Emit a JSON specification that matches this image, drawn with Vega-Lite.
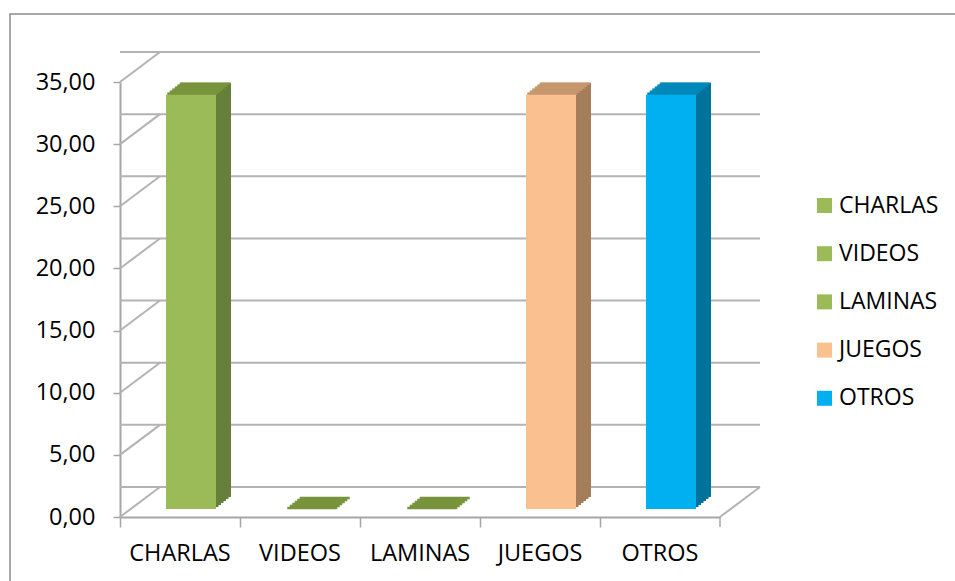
{
  "$schema": "https://vega.github.io/schema/vega-lite/v6.json",
  "width": 600,
  "height": 435,
  "autosize": {"type": "none"},
  "padding": {"left": 120, "top": 82, "right": 235, "bottom": 64},
  "background": "white",
  "config": {"view": {"stroke": null}, "font": "Open Sans", "axis": {"grid": false}},
  "datasets": {
    "cats": [
      {"cat": "CHARLAS", "value": 33.33},
      {"cat": "VIDEOS", "value": 0},
      {"cat": "LAMINAS", "value": 0},
      {"cat": "JUEGOS", "value": 33.33},
      {"cat": "OTROS", "value": 33.33}
    ],
    "grid": [{"v": 0}, {"v": 5}, {"v": 10}, {"v": 15}, {"v": 20}, {"v": 25}, {"v": 30}, {"v": 35}],
    "one": [{"id": 1}]
  },
  "resolve": {"scale": {"color": "independent"}, "legend": {"color": "independent"}},
  "layer": [
    {
      "data": {"name": "cats"},
      "mark": {"type": "bar", "width": 50, "xOffset": 11, "yOffset": -8, "y2Offset": -8, "opacity": 0},
      "encoding": {
        "x": {"field": "cat", "type": "nominal", "sort": null, "title": null, "scale": {"type": "band", "domain": ["CHARLAS", "VIDEOS", "LAMINAS", "JUEGOS", "OTROS"], "paddingInner": 0, "paddingOuter": 0},
          "axis": {"title": null, "labelAngle": 0, "bandPosition": 0, "domainColor": "#a6a6a6", "domainWidth": 2, "tickColor": "#a6a6a6", "tickSize": 10, "tickWidth": 1.5, "labelFontSize": 23.5, "labelFont": "Open Sans", "labelColor": "black", "labelPadding": 14, "labelDx": 55}},
        "y": {"field": "value", "type": "quantitative", "stack": null, "title": null, "scale": {"domain": [0, 35], "nice": false},
          "axis": {"title": null, "values": [0, 5, 10, 15, 20, 25, 30, 35], "labelExpr": "replace(format(datum.value, '.2f'), '.', ',')", "grid": false, "domainColor": "#a6a6a6", "domainWidth": 2, "tickColor": "#a6a6a6", "tickSize": 7, "tickWidth": 1.5, "labelFontSize": 23.5, "labelFont": "Open Sans", "labelColor": "black", "labelPadding": 18}},
        "y2": {"datum": 0}
      }
    },
    {
      "data": {"name": "one"},
      "mark": {"type": "rect", "fill": "white", "fillOpacity": 0, "stroke": "#8c8c8c", "strokeWidth": 1.5, "xOffset": -110, "x2Offset": 240, "yOffset": -68, "y2Offset": 75},
      "encoding": {
        "x": {"datum": "CHARLAS", "bandPosition": 0, "title": null, "scale": {"type": "band", "domain": ["CHARLAS", "VIDEOS", "LAMINAS", "JUEGOS", "OTROS"], "paddingInner": 0, "paddingOuter": 0}},
        "x2": {"datum": "OTROS", "bandPosition": 1},
        "y": {"datum": 35, "type": "quantitative", "title": null, "scale": {"domain": [0, 35], "nice": false}},
        "y2": {"datum": 0}
      }
    },
    {
      "data": {"name": "grid"},
      "mark": {"type": "rule", "color": "#b3b3b3", "strokeWidth": 2, "xOffset": 40, "x2Offset": 40, "yOffset": -30, "y2Offset": -30},
      "encoding": {
        "y": {"field": "v", "type": "quantitative", "title": null, "scale": {"domain": [0, 35], "nice": false}}
      }
    },
    {
      "data": {"name": "grid"},
      "mark": {"type": "rule", "color": "#b3b3b3", "strokeWidth": 2, "x2Offset": 40, "y2Offset": -30},
      "encoding": {
        "x": {"datum": "CHARLAS", "bandPosition": 0, "title": null, "scale": {"type": "band", "domain": ["CHARLAS", "VIDEOS", "LAMINAS", "JUEGOS", "OTROS"], "paddingInner": 0, "paddingOuter": 0}},
        "x2": {"datum": "CHARLAS", "bandPosition": 0},
        "y": {"field": "v", "type": "quantitative", "title": null, "scale": {"domain": [0, 35], "nice": false}},
        "y2": {"field": "v"}
      }
    },
    {
      "data": {"name": "one"},
      "mark": {"type": "rule", "color": "#b3b3b3", "strokeWidth": 2, "x2Offset": 40, "y2Offset": -30},
      "encoding": {
        "x": {"datum": "OTROS", "bandPosition": 1, "title": null, "scale": {"type": "band", "domain": ["CHARLAS", "VIDEOS", "LAMINAS", "JUEGOS", "OTROS"], "paddingInner": 0, "paddingOuter": 0}},
        "x2": {"datum": "OTROS", "bandPosition": 1},
        "y": {"datum": 0, "type": "quantitative", "title": null, "scale": {"domain": [0, 35], "nice": false}},
        "y2": {"datum": 0}
      }
    },
    {
      "data": {"name": "one"},
      "mark": {"type": "rule", "color": "#a6a6a6", "strokeWidth": 1.5, "y2Offset": 10},
      "encoding": {
        "x": {"datum": "OTROS", "bandPosition": 1, "title": null, "scale": {"type": "band", "domain": ["CHARLAS", "VIDEOS", "LAMINAS", "JUEGOS", "OTROS"], "paddingInner": 0, "paddingOuter": 0}},
        "y": {"datum": 0, "type": "quantitative", "title": null, "scale": {"domain": [0, 35], "nice": false}},
        "y2": {"datum": 0}
      }
    },
    {
      "data": {"name": "cats"},
      "mark": {"type": "bar", "width": 50, "xOffset": 26, "yOffset": -20, "y2Offset": -20},
      "encoding": {
        "x": {"field": "cat", "type": "nominal", "sort": null, "title": null, "scale": {"type": "band", "domain": ["CHARLAS", "VIDEOS", "LAMINAS", "JUEGOS", "OTROS"], "paddingInner": 0, "paddingOuter": 0}},
        "y": {"field": "value", "type": "quantitative", "stack": null, "title": null, "scale": {"domain": [0, 35], "nice": false}},
        "y2": {"datum": 0},
        "color": {"field": "cat", "type": "nominal", "scale": {"domain": ["CHARLAS", "VIDEOS", "LAMINAS", "JUEGOS", "OTROS"], "range": ["#66803a", "#66803a", "#66803a", "#a47d5b", "#00729c"]}, "legend": null}
      }
    },
    {
      "data": {"name": "cats"},
      "mark": {"type": "bar", "width": 50, "xOffset": 23.5, "yOffset": -18, "y2Offset": -18},
      "encoding": {
        "x": {"field": "cat", "type": "nominal", "sort": null, "title": null, "scale": {"type": "band", "domain": ["CHARLAS", "VIDEOS", "LAMINAS", "JUEGOS", "OTROS"], "paddingInner": 0, "paddingOuter": 0}},
        "y": {"field": "value", "type": "quantitative", "stack": null, "title": null, "scale": {"domain": [0, 35], "nice": false}},
        "y2": {"datum": 0},
        "color": {"field": "cat", "type": "nominal", "scale": {"domain": ["CHARLAS", "VIDEOS", "LAMINAS", "JUEGOS", "OTROS"], "range": ["#66803a", "#66803a", "#66803a", "#a47d5b", "#00729c"]}, "legend": null}
      }
    },
    {
      "data": {"name": "cats"},
      "mark": {"type": "bar", "width": 50, "xOffset": 21, "yOffset": -16, "y2Offset": -16},
      "encoding": {
        "x": {"field": "cat", "type": "nominal", "sort": null, "title": null, "scale": {"type": "band", "domain": ["CHARLAS", "VIDEOS", "LAMINAS", "JUEGOS", "OTROS"], "paddingInner": 0, "paddingOuter": 0}},
        "y": {"field": "value", "type": "quantitative", "stack": null, "title": null, "scale": {"domain": [0, 35], "nice": false}},
        "y2": {"datum": 0},
        "color": {"field": "cat", "type": "nominal", "scale": {"domain": ["CHARLAS", "VIDEOS", "LAMINAS", "JUEGOS", "OTROS"], "range": ["#66803a", "#66803a", "#66803a", "#a47d5b", "#00729c"]}, "legend": null}
      }
    },
    {
      "data": {"name": "cats"},
      "mark": {"type": "bar", "width": 50, "xOffset": 18.5, "yOffset": -14, "y2Offset": -14},
      "encoding": {
        "x": {"field": "cat", "type": "nominal", "sort": null, "title": null, "scale": {"type": "band", "domain": ["CHARLAS", "VIDEOS", "LAMINAS", "JUEGOS", "OTROS"], "paddingInner": 0, "paddingOuter": 0}},
        "y": {"field": "value", "type": "quantitative", "stack": null, "title": null, "scale": {"domain": [0, 35], "nice": false}},
        "y2": {"datum": 0},
        "color": {"field": "cat", "type": "nominal", "scale": {"domain": ["CHARLAS", "VIDEOS", "LAMINAS", "JUEGOS", "OTROS"], "range": ["#66803a", "#66803a", "#66803a", "#a47d5b", "#00729c"]}, "legend": null}
      }
    },
    {
      "data": {"name": "cats"},
      "mark": {"type": "bar", "width": 50, "xOffset": 16, "yOffset": -12, "y2Offset": -12},
      "encoding": {
        "x": {"field": "cat", "type": "nominal", "sort": null, "title": null, "scale": {"type": "band", "domain": ["CHARLAS", "VIDEOS", "LAMINAS", "JUEGOS", "OTROS"], "paddingInner": 0, "paddingOuter": 0}},
        "y": {"field": "value", "type": "quantitative", "stack": null, "title": null, "scale": {"domain": [0, 35], "nice": false}},
        "y2": {"datum": 0},
        "color": {"field": "cat", "type": "nominal", "scale": {"domain": ["CHARLAS", "VIDEOS", "LAMINAS", "JUEGOS", "OTROS"], "range": ["#66803a", "#66803a", "#66803a", "#a47d5b", "#00729c"]}, "legend": null}
      }
    },
    {
      "data": {"name": "cats"},
      "mark": {"type": "bar", "width": 50, "xOffset": 13.5, "yOffset": -10, "y2Offset": -10},
      "encoding": {
        "x": {"field": "cat", "type": "nominal", "sort": null, "title": null, "scale": {"type": "band", "domain": ["CHARLAS", "VIDEOS", "LAMINAS", "JUEGOS", "OTROS"], "paddingInner": 0, "paddingOuter": 0}},
        "y": {"field": "value", "type": "quantitative", "stack": null, "title": null, "scale": {"domain": [0, 35], "nice": false}},
        "y2": {"datum": 0},
        "color": {"field": "cat", "type": "nominal", "scale": {"domain": ["CHARLAS", "VIDEOS", "LAMINAS", "JUEGOS", "OTROS"], "range": ["#66803a", "#66803a", "#66803a", "#a47d5b", "#00729c"]}, "legend": null}
      }
    },
    {
      "data": {"name": "cats"},
      "mark": {"type": "tick", "size": 50, "thickness": 2.6, "opacity": 1, "xOffset": 12.25, "yOffset": -9},
      "encoding": {
        "x": {"field": "cat", "type": "nominal", "sort": null, "title": null, "scale": {"type": "band", "domain": ["CHARLAS", "VIDEOS", "LAMINAS", "JUEGOS", "OTROS"], "paddingInner": 0, "paddingOuter": 0}},
        "y": {"field": "value", "type": "quantitative", "stack": null, "title": null, "scale": {"domain": [0, 35], "nice": false}},
        "color": {"field": "cat", "type": "nominal", "scale": {"domain": ["CHARLAS", "VIDEOS", "LAMINAS", "JUEGOS", "OTROS"], "range": ["#77933c", "#77933c", "#77933c", "#c6966c", "#0088ba"]}, "legend": null}
      }
    },
    {
      "data": {"name": "cats"},
      "mark": {"type": "tick", "size": 50, "thickness": 2.6, "opacity": 1, "xOffset": 14.75, "yOffset": -11},
      "encoding": {
        "x": {"field": "cat", "type": "nominal", "sort": null, "title": null, "scale": {"type": "band", "domain": ["CHARLAS", "VIDEOS", "LAMINAS", "JUEGOS", "OTROS"], "paddingInner": 0, "paddingOuter": 0}},
        "y": {"field": "value", "type": "quantitative", "stack": null, "title": null, "scale": {"domain": [0, 35], "nice": false}},
        "color": {"field": "cat", "type": "nominal", "scale": {"domain": ["CHARLAS", "VIDEOS", "LAMINAS", "JUEGOS", "OTROS"], "range": ["#77933c", "#77933c", "#77933c", "#c6966c", "#0088ba"]}, "legend": null}
      }
    },
    {
      "data": {"name": "cats"},
      "mark": {"type": "tick", "size": 50, "thickness": 2.6, "opacity": 1, "xOffset": 17.25, "yOffset": -13},
      "encoding": {
        "x": {"field": "cat", "type": "nominal", "sort": null, "title": null, "scale": {"type": "band", "domain": ["CHARLAS", "VIDEOS", "LAMINAS", "JUEGOS", "OTROS"], "paddingInner": 0, "paddingOuter": 0}},
        "y": {"field": "value", "type": "quantitative", "stack": null, "title": null, "scale": {"domain": [0, 35], "nice": false}},
        "color": {"field": "cat", "type": "nominal", "scale": {"domain": ["CHARLAS", "VIDEOS", "LAMINAS", "JUEGOS", "OTROS"], "range": ["#77933c", "#77933c", "#77933c", "#c6966c", "#0088ba"]}, "legend": null}
      }
    },
    {
      "data": {"name": "cats"},
      "mark": {"type": "tick", "size": 50, "thickness": 2.6, "opacity": 1, "xOffset": 19.75, "yOffset": -15},
      "encoding": {
        "x": {"field": "cat", "type": "nominal", "sort": null, "title": null, "scale": {"type": "band", "domain": ["CHARLAS", "VIDEOS", "LAMINAS", "JUEGOS", "OTROS"], "paddingInner": 0, "paddingOuter": 0}},
        "y": {"field": "value", "type": "quantitative", "stack": null, "title": null, "scale": {"domain": [0, 35], "nice": false}},
        "color": {"field": "cat", "type": "nominal", "scale": {"domain": ["CHARLAS", "VIDEOS", "LAMINAS", "JUEGOS", "OTROS"], "range": ["#77933c", "#77933c", "#77933c", "#c6966c", "#0088ba"]}, "legend": null}
      }
    },
    {
      "data": {"name": "cats"},
      "mark": {"type": "tick", "size": 50, "thickness": 2.6, "opacity": 1, "xOffset": 22.25, "yOffset": -17},
      "encoding": {
        "x": {"field": "cat", "type": "nominal", "sort": null, "title": null, "scale": {"type": "band", "domain": ["CHARLAS", "VIDEOS", "LAMINAS", "JUEGOS", "OTROS"], "paddingInner": 0, "paddingOuter": 0}},
        "y": {"field": "value", "type": "quantitative", "stack": null, "title": null, "scale": {"domain": [0, 35], "nice": false}},
        "color": {"field": "cat", "type": "nominal", "scale": {"domain": ["CHARLAS", "VIDEOS", "LAMINAS", "JUEGOS", "OTROS"], "range": ["#77933c", "#77933c", "#77933c", "#c6966c", "#0088ba"]}, "legend": null}
      }
    },
    {
      "data": {"name": "cats"},
      "mark": {"type": "tick", "size": 50, "thickness": 2.6, "opacity": 1, "xOffset": 24.75, "yOffset": -19},
      "encoding": {
        "x": {"field": "cat", "type": "nominal", "sort": null, "title": null, "scale": {"type": "band", "domain": ["CHARLAS", "VIDEOS", "LAMINAS", "JUEGOS", "OTROS"], "paddingInner": 0, "paddingOuter": 0}},
        "y": {"field": "value", "type": "quantitative", "stack": null, "title": null, "scale": {"domain": [0, 35], "nice": false}},
        "color": {"field": "cat", "type": "nominal", "scale": {"domain": ["CHARLAS", "VIDEOS", "LAMINAS", "JUEGOS", "OTROS"], "range": ["#77933c", "#77933c", "#77933c", "#c6966c", "#0088ba"]}, "legend": null}
      }
    },
    {
      "data": {"name": "cats"},
      "mark": {"type": "bar", "width": 50, "xOffset": 11, "yOffset": -8, "y2Offset": -8},
      "encoding": {
        "x": {"field": "cat", "type": "nominal", "sort": null, "title": null, "scale": {"type": "band", "domain": ["CHARLAS", "VIDEOS", "LAMINAS", "JUEGOS", "OTROS"], "paddingInner": 0, "paddingOuter": 0}},
        "y": {"field": "value", "type": "quantitative", "stack": null, "title": null, "scale": {"domain": [0, 35], "nice": false}},
        "y2": {"datum": 0},
        "color": {"field": "cat", "type": "nominal", "scale": {"domain": ["CHARLAS", "VIDEOS", "LAMINAS", "JUEGOS", "OTROS"], "range": ["#9bbb59", "#9bbb59", "#9bbb59", "#fac090", "#00b0f0"]},
          "legend": {"title": null, "orient": "none", "legendX": 693, "legendY": 112, "symbolType": "square", "symbolSize": 225, "symbolStrokeWidth": 0, "labelFontSize": 23, "labelFont": "Open Sans", "labelColor": "black", "rowPadding": 24.2, "labelOffset": 3, "padding": 0}}
      }
    }
  ]
}
